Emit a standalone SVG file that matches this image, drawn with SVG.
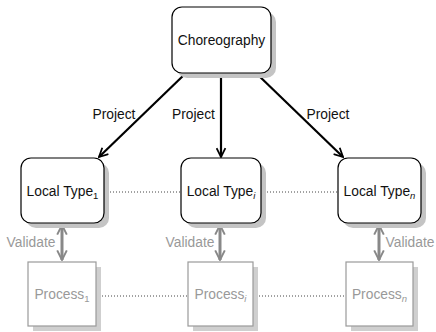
<svg xmlns="http://www.w3.org/2000/svg" width="436" height="332" viewBox="0 0 436 332">
  <defs>
    <marker id="arrowBlack" viewBox="0 0 10 10" refX="9" refY="5" markerWidth="5" markerHeight="5" orient="auto" markerUnits="strokeWidth">
      <path d="M1,1 L9,5 L1,9" fill="none" stroke="#000" stroke-width="1.6"/>
    </marker>
    <marker id="arrowGray" viewBox="0 0 10 10" refX="9" refY="5" markerWidth="4" markerHeight="4" orient="auto-start-reverse" markerUnits="strokeWidth">
      <path d="M1,1 L9,5 L1,9" fill="none" stroke="#888" stroke-width="1.6"/>
    </marker>
  </defs>
  <style>
    text { font-family: "Liberation Sans", Arial, sans-serif; font-size: 13.8px; text-anchor: middle; }
    .sub { font-size: 9.5px; }
    .shadow { fill: #c4c4c4; }
    .pshadow { fill: #cfcfcf; }
    .lt { fill: #fff; stroke: #000; stroke-width: 1.2; }
    .proc { fill: #fff; stroke: #9a9a9a; stroke-width: 1.2; }
    .dark { fill: #111; }
    .gray { fill: #999; }
    .project { stroke: #000; stroke-width: 2.2; fill: none; marker-end: url(#arrowBlack); }
    .validate { stroke: #888; stroke-width: 3; fill: none; marker-start: url(#arrowGray); marker-end: url(#arrowGray); }
    .dots { stroke: #444; stroke-width: 1; stroke-dasharray: 1 2; fill: none; }
  </style>

  <!-- connectors -->
  <g id="connectors">
    <line class="dots" x1="104" y1="192" x2="181" y2="192"/>
    <line class="dots" x1="261" y1="192" x2="338" y2="192"/>
    <line class="dots" x1="96" y1="296" x2="188" y2="296"/>
    <line class="dots" x1="253" y1="296" x2="346" y2="296"/>
    <line class="project" x1="186" y1="73" x2="99" y2="157"/>
    <line class="project" x1="221" y1="73" x2="221" y2="157"/>
    <line class="project" x1="256" y1="73" x2="343" y2="157"/>
    <line class="validate" x1="62" y1="225" x2="62" y2="260"/>
    <line class="validate" x1="220" y1="225" x2="220" y2="260"/>
    <line class="validate" x1="379" y1="225" x2="379" y2="260"/>
    <text class="dark" x="114" y="119">Project</text>
    <text class="dark" x="193.5" y="119">Project</text>
    <text class="dark" x="328" y="119">Project</text>
    <text class="gray" x="31" y="247">Validate</text>
    <text class="gray" x="190" y="247">Validate</text>
    <text class="gray" x="410" y="247">Validate</text>
  </g>

  <!-- choreography -->
  <g id="choreography">
    <rect class="shadow" x="177" y="12" width="99" height="66" rx="10"/>
    <rect class="lt" x="172" y="7" width="99" height="66" rx="10"/>
    <text class="dark" x="221.5" y="45">Choreography</text>
  </g>

  <!-- local types -->
  <g id="local-type-1">
    <rect class="shadow" x="26" y="163" width="83" height="65" rx="10"/>
    <rect class="lt" x="21" y="158" width="83" height="65" rx="10"/>
    <text class="dark" x="62.5" y="196">Local Type<tspan class="sub" dy="3">1</tspan></text>
  </g>
  <g id="local-type-i">
    <rect class="shadow" x="186" y="163" width="80" height="65" rx="10"/>
    <rect class="lt" x="181" y="158" width="80" height="65" rx="10"/>
    <text class="dark" x="221" y="196">Local Type<tspan class="sub" dy="3" font-style="italic">i</tspan></text>
  </g>
  <g id="local-type-n">
    <rect class="shadow" x="343" y="163" width="83" height="65" rx="10"/>
    <rect class="lt" x="338" y="158" width="83" height="65" rx="10"/>
    <text class="dark" x="379.5" y="196">Local Type<tspan class="sub" dy="3" font-style="italic">n</tspan></text>
  </g>

  <!-- processes -->
  <g id="process-1">
    <rect class="pshadow" x="33" y="267" width="68" height="64"/>
    <rect class="proc" x="28" y="262" width="68" height="64"/>
    <text class="gray" x="62" y="299">Process<tspan class="sub" dy="3">1</tspan></text>
  </g>
  <g id="process-i">
    <rect class="pshadow" x="193" y="267" width="65" height="64"/>
    <rect class="proc" x="188" y="262" width="65" height="64"/>
    <text class="gray" x="220.5" y="299">Process<tspan class="sub" dy="3" font-style="italic">i</tspan></text>
  </g>
  <g id="process-n">
    <rect class="pshadow" x="351" y="267" width="67" height="64"/>
    <rect class="proc" x="346" y="262" width="67" height="64"/>
    <text class="gray" x="379.5" y="299">Process<tspan class="sub" dy="3" font-style="italic">n</tspan></text>
  </g>
</svg>
